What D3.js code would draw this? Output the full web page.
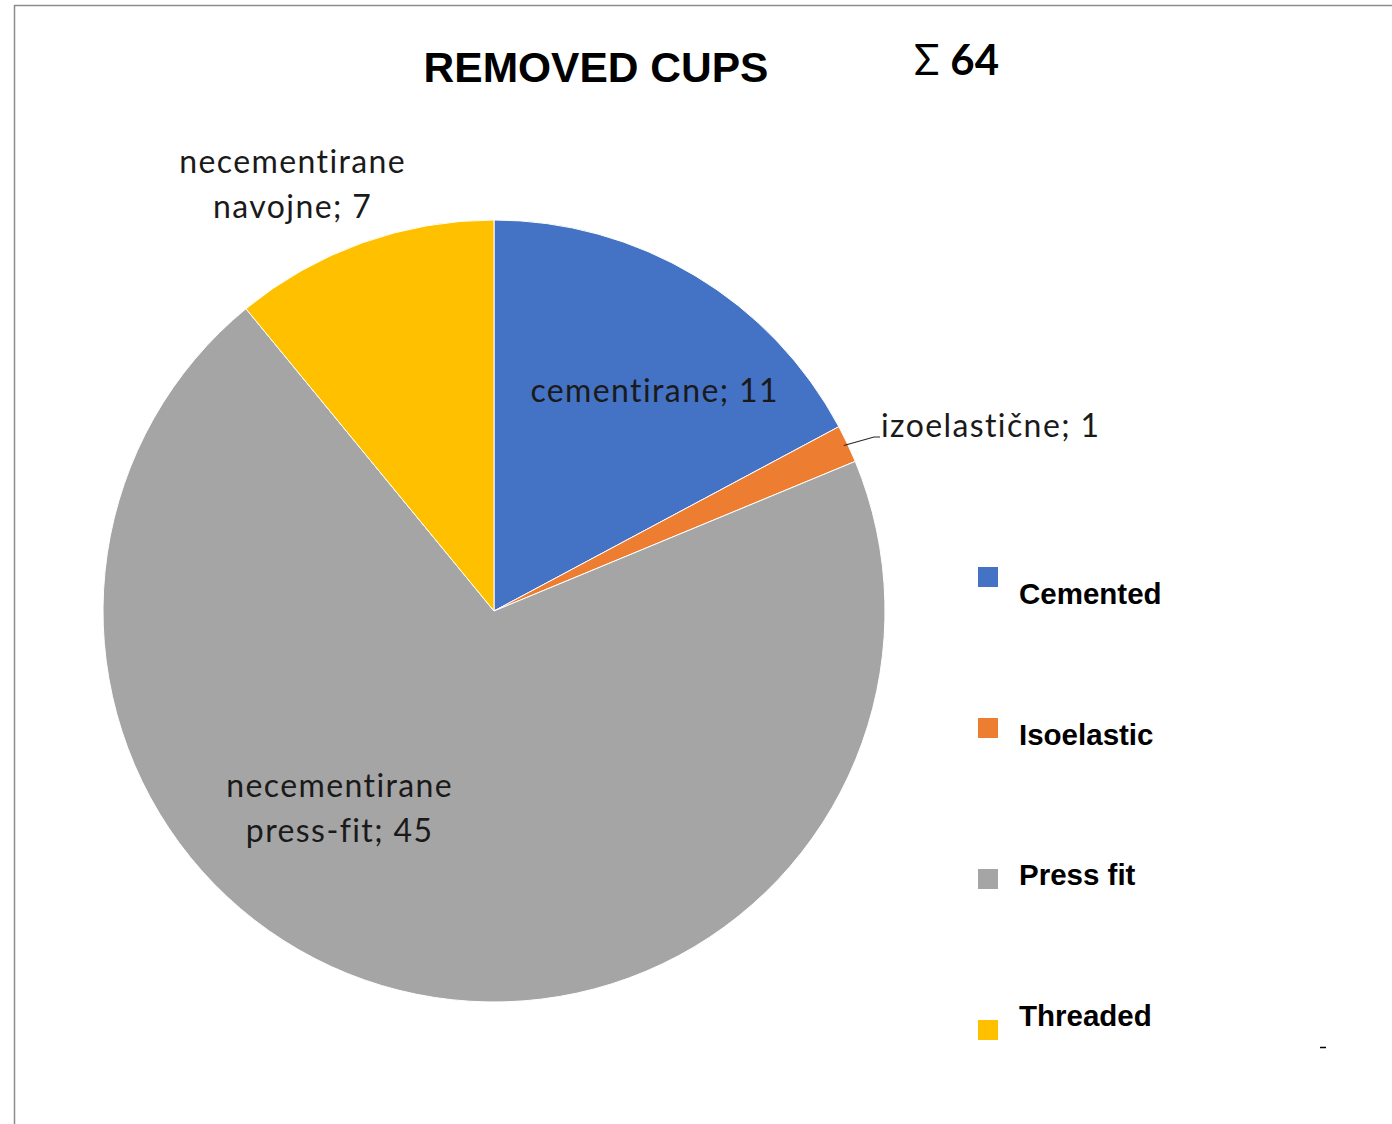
<!DOCTYPE html>
<html><head><meta charset="utf-8">
<script src="https://cdn.jsdelivr.net/npm/d3@7"></script>
<style>body{margin:0;background:#fff}svg{display:block}text{font-variant-ligatures:none}</style>
</head><body>
<svg id="c" width="1392" height="1124"></svg>
<script>
const categories = ["cementirane", "izoelastične", "necementirane press-fit", "necementirane navojne"];
const values = [11, 1, 45, 7];
const legendLabels = ["Cemented", "Isoelastic", "Press fit", "Threaded"];
const colors = ["#4472C4", "#ED7D31", "#A5A5A5", "#FFC000"];
const title = "REMOVED CUPS";
const totalSymbol = "Σ";
const totalValue = "64";

const svg = d3.select("#c");
const W = 1392, H = 1124;
// frame
svg.append("line").attr("x1",14).attr("y1",5.5).attr("x2",W).attr("y2",5.5).attr("stroke","#8c8c8c").attr("stroke-width",1.5);
svg.append("line").attr("x1",14.5).attr("y1",5).attr("x2",14.5).attr("y2",H).attr("stroke","#8c8c8c").attr("stroke-width",1.5);

svg.append("text").attr("x",596).attr("y",82).attr("text-anchor","middle")
  .attr("font-family","Liberation Sans, Arial, sans-serif").attr("font-weight","bold").attr("font-size",42.5).text(title);
const tt = svg.append("text").attr("x",914).attr("y",75)
  .attr("font-family","Lato, sans-serif").attr("font-size",42);
tt.append("tspan").attr("font-weight","normal").text(totalSymbol + " ");
tt.append("tspan").attr("font-weight","bold").text(totalValue);

const cx = 494, cy = 611, R = 391;
const pie = d3.pie().sort(null).value(d => d)(values);
const arc = d3.arc().innerRadius(0).outerRadius(R);
const g = svg.append("g").attr("transform",`translate(${cx},${cy})`);
g.selectAll("path").data(pie).join("path").attr("d",arc)
  .attr("fill",(d,i)=>colors[i]).attr("stroke","#fff").attr("stroke-width",1);

const lf = "Lato, 'Open Sans', sans-serif", ls = 32, sp = 1.4;
function lbl(lines, x, y, anchor){
  const t = svg.append("text").attr("font-family",lf).attr("font-size",ls).attr("fill","#1a1a1a")
    .attr("letter-spacing",sp).attr("text-anchor",anchor);
  lines.forEach((s,k)=>t.append("tspan").attr("x",anchor==="middle"? x+sp/2 : x).attr("y",y+k*45).text(s));
}
lbl(["necementirane", "navojne; " + values[3]], 292, 173, "middle");
lbl(["cementirane; " + values[0]], 654, 402, "middle");
lbl(["izoelastične; " + values[1]], 881, 437, "start");
lbl(["necementirane", "press-fit; " + values[2]], 339, 797, "middle");
// leader line for small slice
const mid = (pie[1].startAngle + pie[1].endAngle)/2;
const p0 = [cx + (R-4)*Math.sin(mid), cy - (R-4)*Math.cos(mid)];
svg.append("polyline").attr("points",`${p0[0]},${p0[1]} ${874},${437} ${880},${437}`)
  .attr("fill","none").attr("stroke","#262626").attr("stroke-width",1.2);

// legend
const yText = d3.scaleLinear().domain([0,3]).range([604,1026]);
const yMark = d3.scaleLinear().domain([0,3]).range([567,1020]);
const lg = svg.append("g");
legendLabels.forEach((s,i)=>{
  lg.append("rect").attr("x",978).attr("y",yMark(i)).attr("width",20).attr("height",20).attr("fill",colors[i]);
  lg.append("text").attr("x",1019).attr("y",yText(i)).attr("font-family","Liberation Sans, Arial, sans-serif")
    .attr("font-weight","bold").attr("font-size",29.5).text(s);
});
svg.append("line").attr("x1",1320).attr("y1",1047.5).attr("x2",1326).attr("y2",1047.5).attr("stroke","#000").attr("stroke-width",1.5);
</script>
</body></html>
